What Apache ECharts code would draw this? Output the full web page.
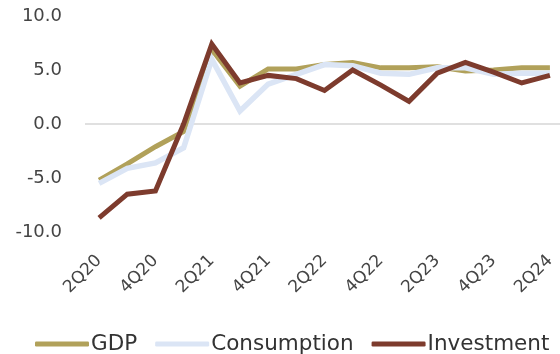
<!DOCTYPE html>
<html>
<head>
<meta charset="utf-8">
<script src="https://cdn.jsdelivr.net/npm/echarts@6/dist/echarts.min.js"></script>
<style>html,body{margin:0;padding:0;background:#fff}#c{width:560px;height:354px}</style>
</head>
<body>
<div id="c"></div>
<script>
var categories = ['2Q20','3Q20','4Q20','1Q21','2Q21','3Q21','4Q21','1Q22','2Q22','3Q22','4Q22','1Q23','2Q23','3Q23','4Q23','1Q24','2Q24'];
var gdp = [-5.2, -3.7, -2.1, -0.7, 6.9, 3.5, 5.1, 5.1, 5.5, 5.7, 5.2, 5.2, 5.3, 4.9, 5.0, 5.2, 5.2];
var consumption = [-5.5, -4.1, -3.6, -2.2, 6.0, 1.2, 3.7, 4.6, 5.5, 5.4, 4.7, 4.6, 5.2, 5.2, 4.6, 4.7, 4.7];
var investment = [-8.7, -6.5, -6.2, 0.0, 7.4, 3.8, 4.5, 4.2, 3.1, 5.0, 3.6, 2.1, 4.7, 5.7, 4.8, 3.8, 4.5];
var yTicks = [-10, -5, 0, 5, 10];

var chart = echarts.init(document.getElementById('c'), null, {renderer: 'canvas'});
function line(name, data, color, width) {
  return {
    name: name, type: 'line', data: data, symbol: 'none',
    lineStyle: {color: color, width: width, join: 'miter'},
    itemStyle: {color: color}
  };
}
chart.setOption({
  animation: false,
  grid: {left: 85, right: -4, top: 16, bottom: 122, outerBoundsMode: 'none'},
  xAxis: {
    type: 'category', data: categories, boundaryGap: true,
    axisLine: {show: false}, axisTick: {show: false},
    axisLabel: {interval: 1, rotate: 45, margin: 26, color: '#444', fontFamily: 'DejaVu Sans', fontSize: 17}
  },
  yAxis: {
    type: 'value', min: yTicks[0], max: yTicks[yTicks.length - 1], interval: 5,
    axisLine: {show: false}, axisTick: {show: false},
    axisLabel: {margin: 23, color: '#444', fontFamily: 'DejaVu Sans', fontSize: 18,
      formatter: function (v) { return v.toFixed(1); }},
    splitLine: {show: true, lineStyle: {color: yTicks.map(function (t) { return t === 0 ? '#d6d6d6' : 'rgba(0,0,0,0)'; }), width: 1.5}}
  },
  legend: {
    left: 30, top: 328, icon: 'roundRect', itemWidth: 54, itemHeight: 5, itemGap: 18,
    textStyle: {fontFamily: 'DejaVu Sans', fontSize: 21.5, color: '#333', padding: [0, 0, 0, -3]},
    data: ['GDP', 'Consumption', 'Investment']
  },
  series: [
    line('GDP', gdp, '#b1a15a', 5),
    line('Consumption', consumption, '#dbe5f5', 5.5),
    line('Investment', investment, '#7d3b2d', 5)
  ]
});
</script>
</body>
</html>
